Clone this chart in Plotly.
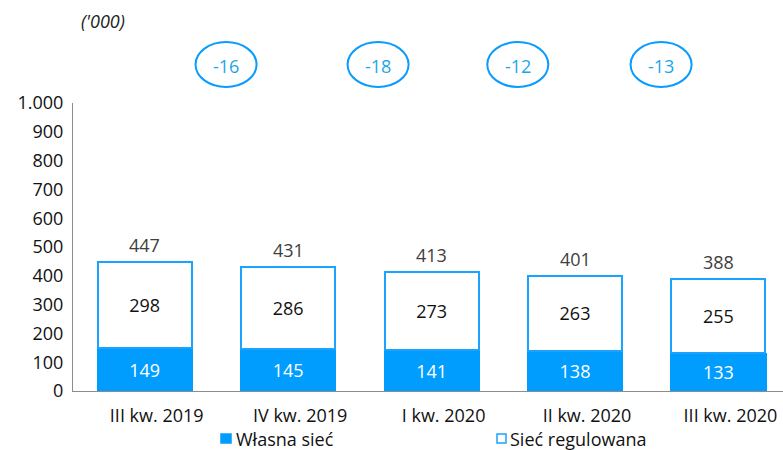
import plotly.graph_objects as go

categories = ["III kw. 2019", "IV kw. 2019", "I kw. 2020", "II kw. 2020", "III kw. 2020"]
own_network = [149, 145, 141, 138, 133]
regulated_network = [298, 286, 273, 263, 255]
totals = [447, 431, 413, 401, 388]
deltas = [-16, -18, -12, -13]
y_ticks = [0, 100, 200, 300, 400, 500, 600, 700, 800, 900, 1000]

BLUE = "#009DFF"
FONT = "Open Sans"
xs = list(range(len(categories)))

fig = go.Figure()
fig.add_trace(go.Bar(
    x=xs, y=own_network, name="Własna sieć",
    marker=dict(color=BLUE, line=dict(width=0)),
    width=0.67, text=own_network, textposition="inside",
    insidetextanchor="middle",
    textfont=dict(color="white", size=18, family=FONT),
    showlegend=False,
))
fig.add_trace(go.Bar(
    x=xs, y=regulated_network, name="Sieć regulowana",
    marker=dict(color="white", line=dict(color="#1AA3FF", width=2)),
    width=0.655, text=regulated_network, textposition="inside",
    insidetextanchor="middle",
    textfont=dict(color="#111111", size=18, family=FONT),
    showlegend=False,
))

shapes = []
annotations = []

# totals above bars
for x, t in zip(xs, totals):
    annotations.append(dict(
        x=x, y=t, xref="x", yref="y", text=str(t), showarrow=False,
        xanchor="center", yanchor="middle", yshift=17,
        font=dict(color="#404040", size=18, family=FONT),
    ))

# change bubbles between quarters
delta_pos = [0.567, 1.627, 2.601, 3.60]
for p, d in zip(delta_pos, deltas):
    shapes.append(dict(
        type="circle", xref="x", yref="paper",
        xsizemode="pixel", ysizemode="pixel",
        xanchor=p, yanchor=(391 - 64.5) / 288,
        x0=-30.5, x1=30.5, y0=-22.5, y1=22.5,
        line=dict(color="#0A9BFF", width=2), fillcolor="rgba(0,0,0,0)",
    ))
    annotations.append(dict(
        x=p, y=(391 - 66) / 288, xref="x", yref="paper", text=str(d), showarrow=False,
        font=dict(color="#1AA7E8", size=18, family=FONT),
        xanchor="center", yanchor="middle",
    ))

# unit label
annotations.append(dict(
    x=(79 - 73) / 710, y=(391 - 21) / 288, xref="paper", yref="paper",
    text="<i>('000)</i>", showarrow=False, xanchor="left", yanchor="middle",
    font=dict(color="#222222", size=18, family=FONT),
))

# legend drawn manually
legend_items = [("Własna sieć", 221, 231, 234, BLUE), ("Sieć regulowana", 497, 506, 508, "white")]
for label, sx0, sx1, tx, fill in legend_items:
    shapes.append(dict(
        type="rect", xref="paper", yref="paper",
        x0=(sx0 - 73) / 710, x1=(sx1 - 73) / 710,
        y0=(391 - 434) / 288, y1=(391 - 443) / 288,
        fillcolor=fill, line=dict(color=BLUE if fill == BLUE else "#1AA3FF", width=1.5),
    ))
    annotations.append(dict(
        x=(tx - 73) / 710, y=(391 - 439) / 288, xref="paper", yref="paper",
        text=label, showarrow=False, xanchor="left", yanchor="middle",
        font=dict(color="#111111", size=18, family=FONT),
    ))

fig.update_layout(
    width=783, height=450,
    margin=dict(l=73, r=0, t=103, b=59),
    barmode="stack", bargap=0.33,
    plot_bgcolor="white", paper_bgcolor="white",
    separators=",.",
    font=dict(family=FONT, size=18, color="#111111"),
    shapes=shapes, annotations=annotations,
    xaxis=dict(
        range=[-0.5, 4.45], tickmode="array", tickvals=xs, ticktext=categories,
        showline=True, linecolor="#8c8c8c", linewidth=1, ticks="",
        showgrid=False, zeroline=False, fixedrange=True,
        tickfont=dict(size=18, family=FONT, color="#111111"),
        ticklabelstandoff=8, ticklabelshift=12,
    ),
    yaxis=dict(
        range=[0, 1000], tickmode="array", tickvals=y_ticks,
        ticktext=[f"{v:,}".replace(",", ".") for v in y_ticks],
        showline=True, linecolor="#8c8c8c", linewidth=1, ticks="",
        showgrid=False, zeroline=False, fixedrange=True,
        tickfont=dict(size=18, family=FONT, color="#111111"),
        ticklabelstandoff=5,
    ),
)

fig.write_html(
    "out.html",
    config={"displayModeBar": False},
    post_script="document.body.style.margin='0px';document.body.style.overflow='hidden';",
)
